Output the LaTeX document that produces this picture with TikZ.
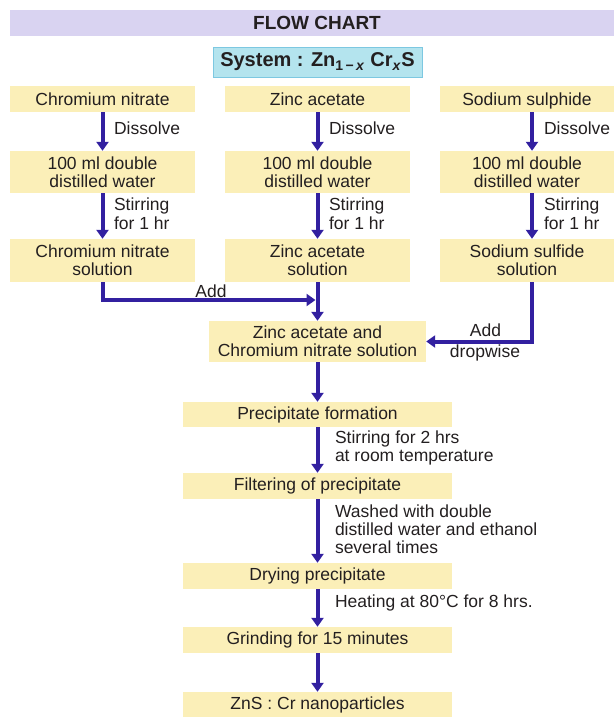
\documentclass[tikz,border=0pt]{standalone}
\usepackage{fontspec}
\setmainfont{Liberation Sans}
\usetikzlibrary{arrows.meta}

\definecolor{lilas}{RGB}{217,211,241}
\definecolor{ciano}{RGB}{180,228,238}
\definecolor{cianoborda}{RGB}{125,200,225}
\definecolor{amarelo}{RGB}{251,239,184}
\definecolor{anil}{RGB}{50,32,160}
\definecolor{texto}{RGB}{35,31,32}

\begin{document}
\begin{tikzpicture}[x=1pt, y=-1pt,
    font=\fontsize{17.5}{18.3}\selectfont,
    caixa/.style={fill=amarelo, inner sep=0pt, align=center, text=texto, minimum height=26},
    seta/.style={anil, line width=4pt, -{Triangle[width=12pt,length=9pt]}},
    rotulo/.style={inner sep=0pt, align=left, text=texto, anchor=west}]

    \useasboundingbox (0,0) rectangle (614,722);

    % Cabeçalho
    \fill[lilas] (10,10) rectangle (614,36);
    \node[text=texto, font=\bfseries\fontsize{19}{21}\selectfont] (titulo) at (317,23) {FLOW CHART};
    \node[draw=cianoborda, fill=ciano, text=texto, minimum width=209, minimum height=30, inner sep=0pt,
        font=\bfseries\fontsize{20}{22}\selectfont] (sistema) at (317.5,62)
        {System : Zn\textsubscript{1\,−\,\textit{x}} Cr\textsubscript{\textit{x}}S};

    % Reagentes
    \node[caixa, minimum width=185] (A1) at (102.5,99) {Chromium nitrate};
    \node[caixa, minimum width=185] (B1) at (317.5,99) {Zinc acetate};
    \node[caixa, minimum width=174, text depth=0pt] (C1) at (527,99) {Sodium sulphide};

    \node[caixa, minimum width=185, minimum height=42] (A2) at (102.5,172) {100 ml double\\distilled water};
    \node[caixa, minimum width=185, minimum height=42] (B2) at (317.5,172) {100 ml double\\distilled water};
    \node[caixa, minimum width=174, minimum height=42] (C2) at (527,172) {100 ml double\\distilled water};

    \node[caixa, minimum width=185, minimum height=43] (A3) at (102.5,260.5) {Chromium nitrate\\solution};
    \node[caixa, minimum width=185, minimum height=43] (B3) at (317.5,260.5) {Zinc acetate\\solution};
    \node[caixa, minimum width=174, minimum height=43] (C3) at (527,260.5) {Sodium sulfide\\solution};

    % Dissolução e agitação
    \draw[seta] (A1) -- node[rotulo, pos=0.42, xshift=9.5pt] (dA) {Dissolve} (A2);
    \draw[seta] (B1) -- node[rotulo, pos=0.42, xshift=9.5pt] (dB) {Dissolve} (B2);
    \draw[seta] ([xshift=5pt]C1.south) -- node[rotulo, pos=0.42, xshift=10pt] (dC) {Dissolve} ([xshift=5pt]C2.north);

    \draw[seta] (A2) -- node[rotulo, pos=0.45, xshift=9.5pt] (eA) {Stirring\\for 1 hr} (A3);
    \draw[seta] (B2) -- node[rotulo, pos=0.45, xshift=9.5pt] (eB) {Stirring\\for 1 hr} (B3);
    \draw[seta] ([xshift=5pt]C2.south) -- node[rotulo, pos=0.45, xshift=10pt] (eC) {Stirring\\for 1 hr} ([xshift=5pt]C3.north);

    % Mistura
    \node[caixa, minimum width=217, minimum height=41] (M) at (317.5,341.5) {Zinc acetate and\\Chromium nitrate solution};
    \coordinate (junta) at (315.5,300);

    \draw[seta] (A3) |- (junta);
    \node[rotulo, anchor=center] (add1) at (211,291.5) {Add};
    \draw[seta] (B3) -- (M);
    \draw[seta] ([xshift=5pt]C3.south) |- (M.east);
    \node[rotulo, anchor=center] (add2) at (485.5,330) {Add};
    \node[rotulo, anchor=center] (gotas) at (485,353) {dropwise};

    % Etapas finais
    \node[caixa, minimum width=269, minimum height=25] (P1) at (317.5,414.5) {Precipitate formation};
    \node[caixa, minimum width=269] (P2) at (317.5,486) {Filtering of precipitate};
    \node[caixa, minimum width=269] (P3) at (317.5,576) {Drying precipitate};
    \node[caixa, minimum width=269] (P4) at (317.5,640) {Grinding for 15 minutes};
    \node[caixa, minimum width=269, minimum height=25] (P5) at (317.5,704.5) {ZnS : Cr nanoparticles};

    \draw[seta] (M) -- (P1);
    \draw[seta] (P1) -- node[rotulo, pos=0.45, xshift=15.5pt] (agita) {Stirring for 2 hrs\\at room temperature} (P2);
    \draw[seta] (P2) -- node[rotulo, pos=0.47, xshift=15.5pt] (lava) {Washed with double\\distilled water and ethanol\\several times} (P3);
    \draw[seta] (P3) -- node[rotulo, pos=0.37, xshift=15.5pt] (aquece) {Heating at 80°C for 8 hrs.} (P4);
    \draw[seta] (P4) -- (P5);

\end{tikzpicture}
\end{document}
